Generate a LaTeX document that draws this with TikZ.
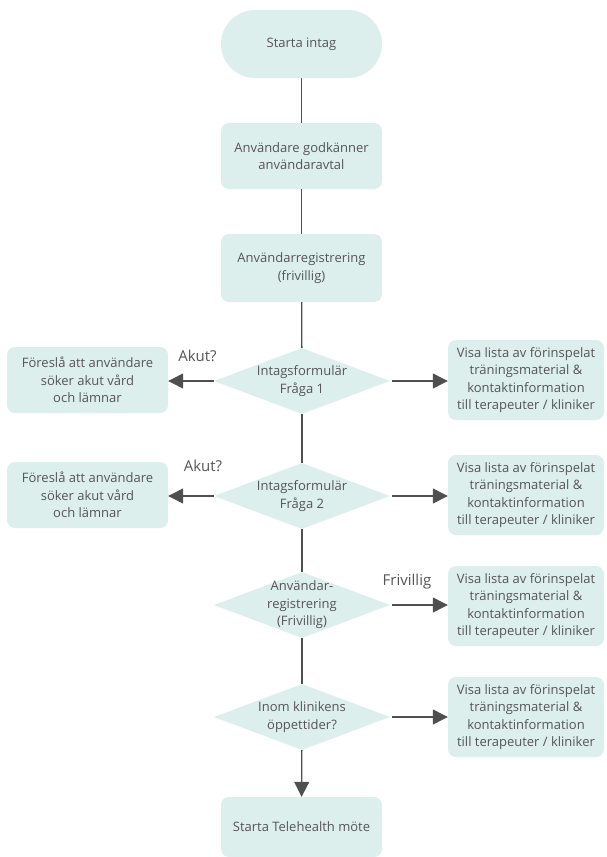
\documentclass[tikz,border=0pt]{standalone}
\usepackage{fontspec}
\setmainfont{Open Sans}
\usetikzlibrary{shapes.geometric,arrows.meta}
\definecolor{boxfill}{HTML}{DDEFEC}
\definecolor{ink}{HTML}{555555}
\definecolor{wire}{HTML}{4F4F4F}
\tikzset{
  x=1pt, y=-1pt,
  txt/.style={font=\fontsize{13}{17.5}\selectfont, text=ink, align=center},
  stepbox/.style={txt, fill=boxfill, draw=none, rounded corners=8pt,
    minimum width=161pt, minimum height=66pt, inner sep=0pt},
  sidebox/.style={stepbox, minimum width=156pt, minimum height=80pt},
  pill/.style={stepbox, rounded corners=34pt, minimum height=68pt},
  decision/.style={diamond, fill=boxfill, draw=none, inner sep=0pt,
    minimum width=176pt, minimum height=66pt},
  dtext/.style={txt, inner sep=0pt},
  wirestyle/.style={draw=wire, line width=1.3pt},
  arr/.style={wirestyle, -{Triangle[length=15pt,width=15pt]}},
  tag/.style={font=\fontsize{15}{17}\selectfont, text=ink, inner sep=0pt}
}
\begin{document}
\begin{tikzpicture}
\useasboundingbox (0,0) rectangle (606,857);

% main column
\node[pill] (start) at (301.5,44) {Starta intag};
\node[stepbox] (agree) at (301.5,156) {Användare godkänner\\användaravtal};
\node[stepbox, minimum height=68pt] (reg) at (301.5,268) {Användarregistrering\\(frivillig)};
\node[decision, label={[dtext]center:Intagsformulär\\Fråga 1}] (q1) at (302,381) {};
\node[decision, label={[dtext]center:Intagsformulär\\Fråga 2}] (q2) at (302,496) {};
\node[decision, label={[dtext]center:Användar-\\registrering\\(Frivillig)}] (q3) at (302,605) {};
\node[decision, label={[dtext]center:Inom klinikens\\öppettider?}] (q4) at (302,717) {};
\node[stepbox, minimum height=60pt] (tele) at (301.5,827) {Starta Telehealth möte};

% emergency exits on the left
\node[stepbox] (exit1) at (87.5,380) {Föreslå att användare\\söker akut vård\\och lämnar};
\node[stepbox] (exit2) at (87.5,495) {Föreslå att användare\\söker akut vård\\och lämnar};

% self-help material on the right
\node[sidebox] (info1) at (526,380) {Visa lista av förinspelat\\träningsmaterial \&\\kontaktinformation\\till terapeuter / kliniker};
\node[sidebox] (info2) at (526,495) {Visa lista av förinspelat\\träningsmaterial \&\\kontaktinformation\\till terapeuter / kliniker};
\node[sidebox] (info3) at (526,606) {Visa lista av förinspelat\\träningsmaterial \&\\kontaktinformation\\till terapeuter / kliniker};
\node[sidebox] (info4) at (526,717) {Visa lista av förinspelat\\träningsmaterial \&\\kontaktinformation\\till terapeuter / kliniker};

% vertical flow
\draw[wirestyle] (start) -- (agree);
\draw[wirestyle] (agree) -- (reg);
\draw[wirestyle] (reg) -- (q1);
\draw[wirestyle] (q1) -- (q2);
\draw[wirestyle] (q2) -- (q3);
\draw[wirestyle] (q3) -- (q4);
\draw[arr] (q4) -- (tele);

% side branches
\draw[arr] (q1.west) -- (q1.west -| exit1.east);
\draw[arr] (q2.west) -- (q2.west -| exit2.east);
\draw[arr] ([xshift=2pt]q1.east) -- (q1.east -| info1.west);
\draw[arr] ([xshift=2pt]q2.east) -- (q2.east -| info2.west);
\draw[arr] ([xshift=2pt]q3.east) -- (q3.east -| info3.west);
\draw[arr] ([xshift=2pt]q4.east) -- (q4.east -| info4.west);

% branch labels
\node[tag] (akut1) at (197.5,356) {Akut?};
\node[tag] (akut2) at (203,466) {Akut?};
\node[tag] (friv) at (407,582) {Frivillig};
\end{tikzpicture}
\end{document}
